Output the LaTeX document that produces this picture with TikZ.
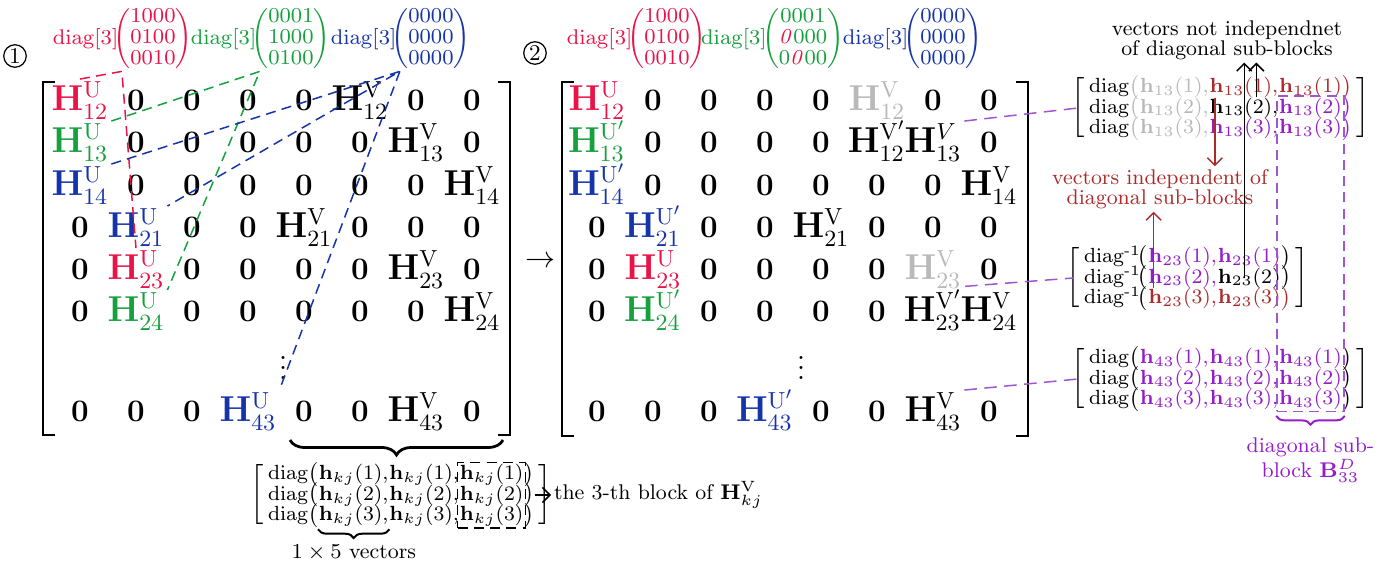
\RequirePackage{fix-cm}
\documentclass[tikz,border=0pt]{standalone}
\usepackage{amsmath}
\usepackage{mathtools}
\usepackage{tikz}
\usetikzlibrary{positioning, fit, arrows.meta, matrix, decorations.pathreplacing}

\DeclareMathSizes{14.4}{14.4}{9.3}{7}

\definecolor{cred}{RGB}{232,20,72}
\definecolor{cgreen}{RGB}{22,160,62}
\definecolor{cblue}{RGB}{22,52,170}
\definecolor{cgray}{RGB}{185,185,185}
\definecolor{dred}{RGB}{172,42,42}
\definecolor{cpurple}{RGB}{150,28,200}
\definecolor{lpurple}{RGB}{160,85,210}

% matrix entries
\newcommand{\Zr}{{\fontsize{12.5}{14}\selectfont$\mathbf{0}$}}
\newcommand{\Hx}[3]{{\color{#1}\fontsize{14.4}{16}\selectfont$\mathbf{H}^{#2}_{#3}$}}
\newcommand{\hv}[2]{\mathbf{h}_{#1}(#2)}
\newcommand{\pat}[3]{\Biggl(\begin{matrix}#1\\#2\\#3\end{matrix}\Biggr)}

\begin{document}
\begin{tikzpicture}[x=0.4pt, y=-0.4pt,
    ent/.style={anchor=base, inner sep=1pt},
    dg/.style={inner sep=0pt, font=\fontsize{8.5}{9.4}\selectfont\def\arraystretch{0.9}},
    numc/.style={circle, draw, line width=0.5pt, inner sep=0pt, minimum size=9pt, font=\fontsize{9}{10}\selectfont},
    brk/.style={line width=1.1pt},
    lnk/.style={dash pattern=on 4pt off 2.5pt, line width=0.6pt},
    plnk/.style={lnk, draw=lpurple, dash pattern=on 5pt off 3pt},
    rmat/.style={matrix of math nodes, inner sep=0pt, column sep=0pt,
      row sep={8.2pt,between origins}, left delimiter={[}, right delimiter={]},
      nodes={anchor=base, inner xsep=0.2pt, inner ysep=0pt, font=\fontsize{8.2}{9.5}\selectfont}},
    note/.style={align=center, inner sep=1pt, font=\fontsize{8.5}{8}\selectfont},
    brc/.style={decorate, decoration={brace, mirror, amplitude=3.5pt}, line width=0.8pt},
    barb/.style={-{Straight Barb[length=3pt,width=6pt]}, line width=0.6pt},
  ]
  \useasboundingbox (0,0) rectangle (1394,565);

  % Step numbers
  \node[numc] (n1) at (15,56) {1};
  \node[numc] (n2) at (535,53) {2};

  % Diagonal patterns: step 1
  \node[dg, text=cred] (pR1) at (153,39) {$\pat{1000}{0100}{0010}$};
  \node[dg, text=cred, left=-2.3pt of pR1] (dR1) {$\mathrm{diag}[3]$};
  \node[dg, text=cgreen] (pG1) at (291,39) {$\pat{0001}{1000}{0100}$};
  \node[dg, text=cgreen, left=-2.3pt of pG1] (dG1) {$\mathrm{diag}[3]$};
  \node[dg, text=cblue] (pB1) at (431,39) {$\pat{0000}{0000}{0000}$};
  \node[dg, text=cblue, left=-2.3pt of pB1] (dB1) {$\mathrm{diag}[3]$};

  % Diagonal patterns: step 2
  \node[dg, text=cred] (pR2) at (667,39) {$\pat{1000}{0100}{0010}$};
  \node[dg, text=cred, left=-2.3pt of pR2] (dR2) {$\mathrm{diag}[3]$};
  \node[dg, text=cgreen] (pG2) at (803,39) {$\pat{0001}{{\color{cred}\mathit{0}}000}{0{\color{cred}\mathit{0}}00}$};
  \node[dg, text=cgreen, left=-2.3pt of pG2] (dG2) {$\mathrm{diag}[3]$};
  \node[dg, text=cblue] (pB2) at (943,39) {$\pat{0000}{0000}{0000}$};
  \node[dg, text=cblue, left=-2.3pt of pB2] (dB2) {$\mathrm{diag}[3]$};

  % Channel matrix: step 1
  \foreach \e [count=\c] in {\Hx{cred}{\mathrm{U}}{12},\Zr,\Zr,\Zr,\Zr,\Hx{black}{\mathrm{V}}{12},\Zr,\Zr}
    \node[ent] (a-1-\c) at ({24+56*\c},111) {\e};
  \foreach \e [count=\c] in {\Hx{cgreen}{\mathrm{U}}{13},\Zr,\Zr,\Zr,\Zr,\Zr,\Hx{black}{\mathrm{V}}{13},\Zr}
    \node[ent] (a-2-\c) at ({24+56*\c},153) {\e};
  \foreach \e [count=\c] in {\Hx{cblue}{\mathrm{U}}{14},\Zr,\Zr,\Zr,\Zr,\Zr,\Zr,\Hx{black}{\mathrm{V}}{14}}
    \node[ent] (a-3-\c) at ({24+56*\c},196) {\e};
  \foreach \e [count=\c] in {\Zr,\Hx{cblue}{\mathrm{U}}{21},\Zr,\Zr,\Hx{black}{\mathrm{V}}{21},\Zr,\Zr,\Zr}
    \node[ent] (a-4-\c) at ({24+56*\c},238) {\e};
  \foreach \e [count=\c] in {\Zr,\Hx{cred}{\mathrm{U}}{23},\Zr,\Zr,\Zr,\Zr,\Hx{black}{\mathrm{V}}{23},\Zr}
    \node[ent] (a-5-\c) at ({24+56*\c},280) {\e};
  \foreach \e [count=\c] in {\Zr,\Hx{cgreen}{\mathrm{U}}{24},\Zr,\Zr,\Zr,\Zr,\Zr,\Hx{black}{\mathrm{V}}{24}}
    \node[ent] (a-6-\c) at ({24+56*\c},322) {\e};
  \foreach \e [count=\c] in {\Zr,\Zr,\Zr,\Hx{cblue}{\mathrm{U}}{43},\Zr,\Zr,\Hx{black}{\mathrm{V}}{43},\Zr}
    \node[ent] (a-8-\c) at ({24+56*\c},422) {\e};
  \node[ent] (a-dots) at (283,380) {\fontsize{12.5}{14}\selectfont$\vdots$};
  \draw[brk] (55,82) -| (43,435) -- (55,435);
  \draw[brk] (498,82) -| (510,435) -- (498,435);

  % Channel matrix: step 2
  \foreach \e [count=\c] in {\Hx{cred}{\mathrm{U}}{12},\Zr,\Zr,\Zr,\Zr,\Hx{cgray}{\mathrm{V}}{12},\Zr,\Zr}
    \node[ent] (b-1-\c) at ({541+56*\c},111) {\e};
  \foreach \e [count=\c] in {\Hx{cgreen}{\mathrm{U}'}{13},\Zr,\Zr,\Zr,\Zr,\Hx{black}{\mathrm{V}'}{12},\Hx{black}{V}{13},\Zr}
    \node[ent] (b-2-\c) at ({541+56*\c},153) {\e};
  \foreach \e [count=\c] in {\Hx{cblue}{\mathrm{U}'}{14},\Zr,\Zr,\Zr,\Zr,\Zr,\Zr,\Hx{black}{\mathrm{V}}{14}}
    \node[ent] (b-3-\c) at ({541+56*\c},196) {\e};
  \foreach \e [count=\c] in {\Zr,\Hx{cblue}{\mathrm{U}'}{21},\Zr,\Zr,\Hx{black}{\mathrm{V}}{21},\Zr,\Zr,\Zr}
    \node[ent] (b-4-\c) at ({541+56*\c},238) {\e};
  \foreach \e [count=\c] in {\Zr,\Hx{cred}{\mathrm{U}}{23},\Zr,\Zr,\Zr,\Zr,\Hx{cgray}{\mathrm{V}}{23},\Zr}
    \node[ent] (b-5-\c) at ({541+56*\c},280) {\e};
  \foreach \e [count=\c] in {\Zr,\Hx{cgreen}{\mathrm{U}'}{24},\Zr,\Zr,\Zr,\Zr,\Hx{black}{\mathrm{V}'}{23},\Hx{black}{\mathrm{V}}{24}}
    \node[ent] (b-6-\c) at ({541+56*\c},322) {\e};
  \foreach \e [count=\c] in {\Zr,\Zr,\Zr,\Hx{cblue}{\mathrm{U}'}{43},\Zr,\Zr,\Hx{black}{\mathrm{V}}{43},\Zr}
    \node[ent] (b-8-\c) at ({541+56*\c},422) {\e};
  \node[ent] (b-dots) at (801,380) {\fontsize{12.5}{14}\selectfont$\vdots$};
  \draw[brk] (574,82) -| (562,436) -- (574,436);
  \draw[brk] (1016,82) -| (1028,436) -- (1016,436);

  % Step arrow
  \node (step) at (540,262) {\fontsize{12}{14}\selectfont$\rightarrow$};

  % Links from patterns to U blocks
  \draw[lnk, cred] (a-1-1.north) -- ([xshift=3.5pt]pR1.south west) -- (a-5-2.north);
  \draw[lnk, cgreen] (a-2-1.north east) -- ([xshift=3.5pt]pG1.south west) -- (a-6-2.north east);
  \draw[lnk, cblue] (a-3-1.north east) -- ([xshift=3.5pt]pB1.south west) -- (a-4-2.north east);
  \draw[lnk, cblue] ([xshift=3.5pt]pB1.south west) -- (a-8-4.north east);

  % Block of H^V_kj
  \coordinate (bL) at (290,440);
  \coordinate (bR) at (503,440);
  \draw[brc, decoration={amplitude=6pt}, line width=1.1pt] (bL) -- (bR);
  \matrix (mK) [rmat, matrix anchor=west] at (267,495) {
    \mathrm{diag}\bigl( & \hv{kj}{1}, & \hv{kj}{1}, & \hv{kj}{1} & \bigr) \\
    \mathrm{diag}\bigl( & \hv{kj}{2}, & \hv{kj}{2}, & \hv{kj}{2} & \bigr) \\
    \mathrm{diag}\bigl( & \hv{kj}{3}, & \hv{kj}{3}, & \hv{kj}{3} & \bigr) \\
  };
  \node[lnk, draw=black, fit=(mK-1-4)(mK-3-4), inner sep=0.5pt] (kblk) {};
  \draw[brc] ([yshift=-1pt]mK-3-2.south west) -- ([yshift=-1pt]mK-3-2.south east);
  \node[note, below=6pt of mK-3-2] (vec) {$1\times5$ vectors};
  \node[note, anchor=west] (tblk) at (551,495) {the 3-th block of $\mathbf{H}^{\mathrm{V}}_{kj}$};
  \draw[barb] (mK.east) -- (tblk.west);

  % Blocks of step 2
  \matrix (mA) [rmat, matrix anchor=west] at (1088,108) {
    \mathrm{diag}{\color{cgray}\bigl(} & |[text=cgray]| \hv{13}{1}, & |[text=dred]| \hv{13}{1}, & |[text=dred]| \hv{13}{1} & |[text=dred]| \bigr) \\
    \mathrm{diag}{\color{cgray}\bigl(} & |[text=cgray]| \hv{13}{2}, & \hv{13}{2}, & |[text=cpurple]| \hv{13}{2} & |[text=cpurple]| \bigr) \\
    \mathrm{diag}{\color{cgray}\bigl(} & |[text=cgray]| \hv{13}{3}, & |[text=cpurple]| \hv{13}{3}, & |[text=cpurple]| \hv{13}{3} & |[text=cpurple]| \bigr) \\
  };
  \matrix (mB) [rmat, matrix anchor=west] at (1083,278) {
    \mathrm{diag}^{\text{-}1}\!\bigl( & |[text=cpurple]| \hv{23}{1}, & |[text=cpurple]| \hv{23}{1} & \bigr) \\
    \mathrm{diag}^{\text{-}1}\!\bigl( & |[text=cpurple]| \hv{23}{2}, & \hv{23}{2} & \bigr) \\
    \mathrm{diag}^{\text{-}1}\!\bigl( & |[text=dred]| \hv{23}{3}, & |[text=dred]| \hv{23}{3} & |[text=dred]| \bigr) \\
  };
  \matrix (mC) [rmat, matrix anchor=west] at (1088,379) {
    \mathrm{diag}\bigl( & |[text=cpurple]| \hv{43}{1}, & |[text=cpurple]| \hv{43}{1}, & |[text=cpurple]| \hv{43}{1} & \bigr) \\
    \mathrm{diag}\bigl( & |[text=cpurple]| \hv{43}{2}, & |[text=cpurple]| \hv{43}{2}, & |[text=cpurple]| \hv{43}{2} & \bigr) \\
    \mathrm{diag}\bigl( & |[text=cpurple]| \hv{43}{3}, & |[text=cpurple]| \hv{43}{3}, & |[text=cpurple]| \hv{43}{3} & \bigr) \\
  };
  \draw[plnk] (b-2-7.north east) -- ([xshift=-4pt]mA.west);
  \draw[plnk] (b-6-7.north east) -- ([xshift=-4pt]mB.west);
  \draw[plnk] (b-8-7.north east) -- ([xshift=-4pt]mC.west);

  % Diagonal sub-block
  \node[lnk, draw=lpurple, fit=(mA-2-4)(mC-3-4), inner sep=0.5pt] (dblk) {};
  \draw[brc, cpurple] ([yshift=-1.5pt]dblk.south west) -- ([yshift=-1.5pt]dblk.south east);
  \node[note, text=cpurple, below=9pt of dblk] (dlab) {diagonal sub-\\block $\mathbf{B}^{D}_{33}$};

  % Notes on vectors
  \node[note] (nind) at (1227,40) {vectors not independnet\\of diagonal sub-blocks};
  \node[note, text=dred] (nindep) at (1160,189) {vectors independent of\\diagonal sub-blocks};
  \coordinate (k1) at ([xshift=-2pt]mB-2-3.center);
  \coordinate (k2) at ([xshift=5pt]mA-2-3.north);
  \draw[barb] (k1) -- (k1 |- nind.south);
  \draw[barb] (k2) -- (k2 |- nind.south);
  \coordinate (r1) at ([xshift=2.5pt]mA-1-3.south west);
  \coordinate (r2) at ([xshift=2.5pt]mB-3-2.north west);
  \draw[barb, dred] (r1) -- (r1 |- nindep.north);
  \draw[barb, dred] (r2) -- (r2 |- nindep.south);
\end{tikzpicture}
\end{document}
